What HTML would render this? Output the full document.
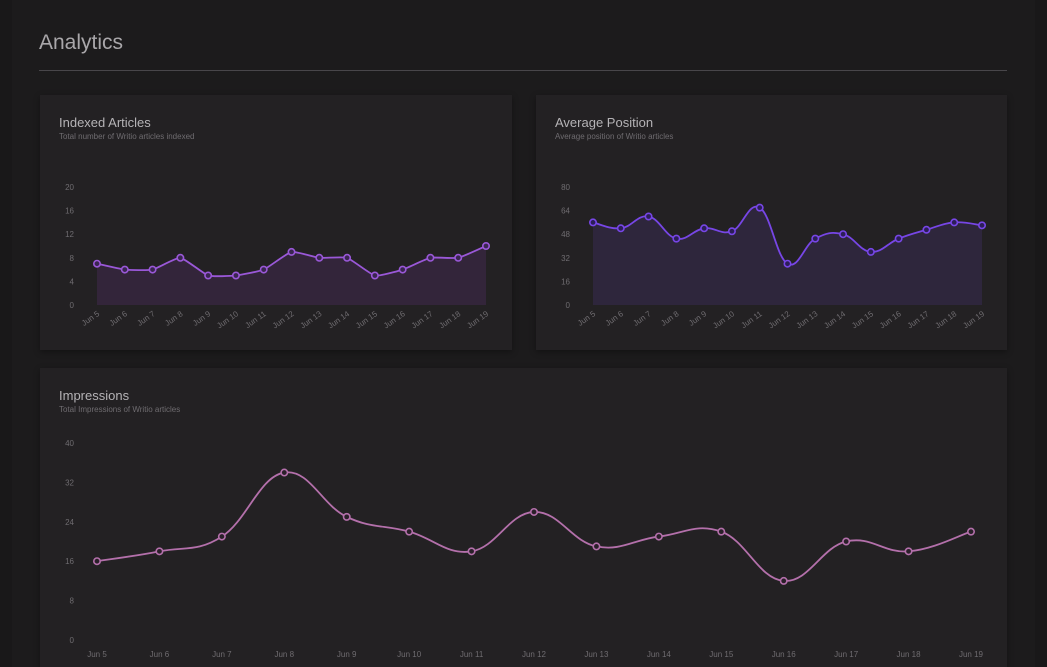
<!DOCTYPE html>
<html><head><meta charset="utf-8"><style>
html,body{margin:0;padding:0;width:1047px;height:667px;overflow:hidden;background:#1c1b1c;font-family:"Liberation Sans",sans-serif;}
.strip{position:absolute;left:0;top:0;width:12px;height:667px;background:#191819}
.strip.r{left:1035px}
h1{position:absolute;left:39px;top:31px;margin:0;font-weight:normal;font-size:21px;color:#a9a7aa}
.rule{position:absolute;left:39px;top:70px;width:968px;height:1px;background:#48464a}
.card{position:absolute;background:#232123;box-shadow:0 2px 6px rgba(0,0,0,.35)}
.card .t{position:absolute;left:19px;top:20px;font-size:13px;color:#b5b3b6}
.card .s{position:absolute;left:19px;top:37px;font-size:8px;color:#6f6c70}
svg{position:absolute;left:0;top:0}
svg text{font-family:"Liberation Sans",sans-serif;font-size:8px;fill:#6f6c70}
</style></head><body>
<div class="strip"></div>
<div class="strip r"></div>
<h1>Analytics</h1>
<div class="rule"></div>
<div class="card" style="left:40px;top:95px;width:472px;height:255px">
<div class="t">Indexed Articles</div>
<div class="s">Total number of Writio articles indexed</div></div>
<div class="card" style="left:536px;top:95px;width:471px;height:255px">
<div class="t">Average Position</div>
<div class="s">Average position of Writio articles</div></div>
<div class="card" style="left:40px;top:368px;width:967px;height:299px">
<div class="t" style="top:20px">Impressions</div>
<div class="s" style="top:37px">Total Impressions of Writio articles</div></div>
<svg id="svg" width="1047" height="667"></svg>
<script>
const categories=["Jun 5","Jun 6","Jun 7","Jun 8","Jun 9","Jun 10","Jun 11","Jun 12","Jun 13","Jun 14","Jun 15","Jun 16","Jun 17","Jun 18","Jun 19"];
const indexedValues=[7,6,6,8,5,5,6,9,8,8,5,6,8,8,10];
const indexedTicks=[0,4,8,12,16,20];
const positionValues=[56,52,60,45,52,50,66,28,45,48,36,45,51,56,54];
const positionTicks=[0,16,32,48,64,80];
const impressionValues=[16,18,21,34,25,22,18,26,19,21,22,12,20,18,22];
const impressionTicks=[0,8,16,24,32,40];

const NS="http://www.w3.org/2000/svg";
const svg=document.getElementById('svg');
function mk(tag,attrs){const e=document.createElementNS(NS,tag);for(const k in attrs)e.setAttribute(k,attrs[k]);svg.appendChild(e);return e;}
function pathFor(pts,t){let d="M"+pts[0][0]+","+pts[0][1];for(let i=0;i<pts.length-1;i++){const p0=pts[Math.max(0,i-1)],p1=pts[i],p2=pts[i+1],p3=pts[Math.min(pts.length-1,i+2)];
const c1=[p1[0]+(p2[0]-p0[0])*t/2,p1[1]+(p2[1]-p0[1])*t/2],c2=[p2[0]-(p3[0]-p1[0])*t/2,p2[1]-(p3[1]-p1[1])*t/2];
d+=" C"+c1[0]+","+c1[1]+" "+c2[0]+","+c2[1]+" "+p2[0]+","+p2[1];}return d;}
function chart(o){
 const x=i=>o.x0+(o.x1-o.x0)*i/(categories.length-1);
 const y=v=>o.y0-(o.y0-o.y1)*v/o.ticks[o.ticks.length-1];
 o.ticks.forEach(t=>{const e=mk('text',{x:o.yl,y:y(t)+3,'text-anchor':'end'});e.textContent=t;
 
 });
 categories.forEach((c,i)=>{let e;
  if(o.rot){e=mk('text',{x:x(i)+3,y:o.y0+10,'text-anchor':'end',transform:`rotate(-35 ${x(i)+3} ${o.y0+10})`});}
  else e=mk('text',{x:x(i),y:o.y0+17,'text-anchor':'middle'});
  e.textContent=c;
  
  });
 const pts=o.vals.map((v,i)=>[x(i),y(v)]);
 const d=pathFor(pts,o.tension);
 if(o.fill){const f=mk('path',{d:d+` L${x(categories.length-1)},${o.y0} L${x(0)},${o.y0} Z`,fill:o.fill});
  
  }
 const l=mk('path',{d:d,fill:'none',stroke:o.color,'stroke-width':1.8});
 
 
 pts.forEach(p=>{const c=mk('circle',{cx:p[0],cy:p[1],r:3.2,fill:o.pfill,stroke:o.color,'stroke-width':1.6});
  
  });
}
chart({vals:indexedValues,ticks:indexedTicks,x0:97,x1:486,y0:305,y1:187,yl:74,rot:true,tension:0.15,color:'#9a58d8',pfill:'#3a2650',fill:'rgba(110,55,140,0.22)'});
chart({vals:positionValues,ticks:positionTicks,x0:593,x1:982,y0:305,y1:187,yl:570,rot:true,tension:0.4,color:'#7746e6',pfill:'#2c1e58',fill:'rgba(80,55,135,0.25)'});
chart({vals:impressionValues,ticks:impressionTicks,x0:97,x1:971,y0:640,y1:443,yl:74,rot:false,tension:0.4,color:'#b470ab',pfill:'#2a2029',fill:null});
</script>
</body></html>
